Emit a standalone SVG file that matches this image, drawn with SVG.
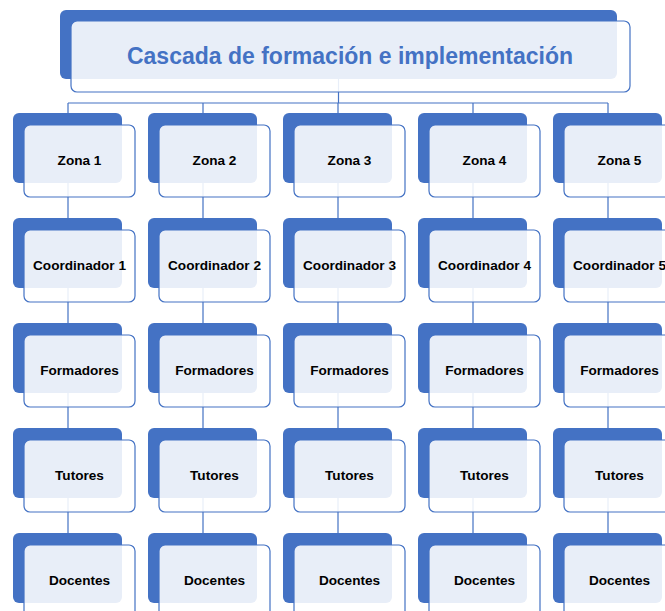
<svg xmlns="http://www.w3.org/2000/svg" width="665" height="611" viewBox="0 0 665 611">
<style>
.back{fill:#4472C4}
.front{fill:#fff;fill-opacity:0.88;stroke:#4472C4;stroke-width:1.2}
.lbl{font-family:"Liberation Sans",Arial,sans-serif;font-weight:bold;font-size:13.6px;fill:#000;text-anchor:middle;dominant-baseline:central}
.ttl{font-family:"Liberation Sans",Arial,sans-serif;font-weight:bold;font-size:23px;fill:#4472C4;text-anchor:middle;dominant-baseline:central}
.conn{stroke:#4472C4;stroke-width:1.2;fill:none}
</style>
<rect width="665" height="611" fill="#fff"/>
<g id="connectors">
<path class="conn" d="M338.5 79V103M68 103H608M68 103V113M203 103V113M338 103V113M473 103V113M608 103V113"/>
<path class="conn" d="M68 183V533M203 183V533M338 183V533M473 183V533M608 183V533"/>
</g>
<g id="title">
<rect class="back" x="60" y="10" width="557" height="69" rx="6"/>
<rect class="front" x="71" y="21" width="559" height="71" rx="6"/>
<text class="ttl" x="350" y="56">Cascada de formación e implementación</text>
</g>
<defs>
<g id="nb">
<rect class="back" x="0" y="0" width="109" height="70" rx="6"/>
<rect class="front" x="11" y="12" width="111" height="72" rx="6"/>
</g>
</defs>
<g id="z1"><use href="#nb" x="13" y="113"/><text class="lbl" x="79.5" y="160">Zona 1</text></g>
<g id="z2"><use href="#nb" x="148" y="113"/><text class="lbl" x="214.5" y="160">Zona 2</text></g>
<g id="z3"><use href="#nb" x="283" y="113"/><text class="lbl" x="349.5" y="160">Zona 3</text></g>
<g id="z4"><use href="#nb" x="418" y="113"/><text class="lbl" x="484.5" y="160">Zona 4</text></g>
<g id="z5"><use href="#nb" x="553" y="113"/><text class="lbl" x="619.5" y="160">Zona 5</text></g>
<g id="c1"><use href="#nb" x="13" y="218"/><text class="lbl" x="79.5" y="265">Coordinador 1</text></g>
<g id="c2"><use href="#nb" x="148" y="218"/><text class="lbl" x="214.5" y="265">Coordinador 2</text></g>
<g id="c3"><use href="#nb" x="283" y="218"/><text class="lbl" x="349.5" y="265">Coordinador 3</text></g>
<g id="c4"><use href="#nb" x="418" y="218"/><text class="lbl" x="484.5" y="265">Coordinador 4</text></g>
<g id="c5"><use href="#nb" x="553" y="218"/><text class="lbl" x="619.5" y="265">Coordinador 5</text></g>
<g id="f1"><use href="#nb" x="13" y="323"/><text class="lbl" x="79.5" y="370">Formadores</text></g>
<g id="f2"><use href="#nb" x="148" y="323"/><text class="lbl" x="214.5" y="370">Formadores</text></g>
<g id="f3"><use href="#nb" x="283" y="323"/><text class="lbl" x="349.5" y="370">Formadores</text></g>
<g id="f4"><use href="#nb" x="418" y="323"/><text class="lbl" x="484.5" y="370">Formadores</text></g>
<g id="f5"><use href="#nb" x="553" y="323"/><text class="lbl" x="619.5" y="370">Formadores</text></g>
<g id="t1"><use href="#nb" x="13" y="428"/><text class="lbl" x="79.5" y="475">Tutores</text></g>
<g id="t2"><use href="#nb" x="148" y="428"/><text class="lbl" x="214.5" y="475">Tutores</text></g>
<g id="t3"><use href="#nb" x="283" y="428"/><text class="lbl" x="349.5" y="475">Tutores</text></g>
<g id="t4"><use href="#nb" x="418" y="428"/><text class="lbl" x="484.5" y="475">Tutores</text></g>
<g id="t5"><use href="#nb" x="553" y="428"/><text class="lbl" x="619.5" y="475">Tutores</text></g>
<g id="d1"><use href="#nb" x="13" y="533"/><text class="lbl" x="79.5" y="580">Docentes</text></g>
<g id="d2"><use href="#nb" x="148" y="533"/><text class="lbl" x="214.5" y="580">Docentes</text></g>
<g id="d3"><use href="#nb" x="283" y="533"/><text class="lbl" x="349.5" y="580">Docentes</text></g>
<g id="d4"><use href="#nb" x="418" y="533"/><text class="lbl" x="484.5" y="580">Docentes</text></g>
<g id="d5"><use href="#nb" x="553" y="533"/><text class="lbl" x="619.5" y="580">Docentes</text></g>
</svg>
